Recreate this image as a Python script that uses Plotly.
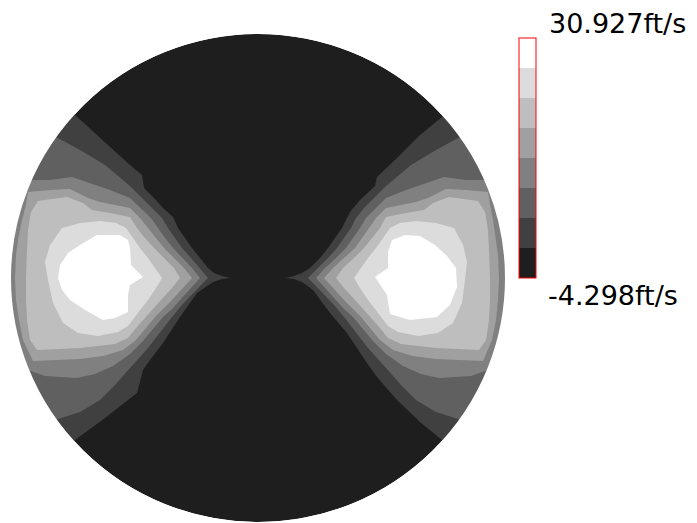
import plotly.graph_objects as go

# velocity range shown on the colour bar (ft/s)
v_min, v_max = -4.298, 30.927
label_top = "30.927ft/s"
label_bottom = "-4.298ft/s"
n_levels = 8
level_colors = ['#1e1e1e', '#404040', '#606060', '#808080',
                '#a0a0a0', '#bebebe', '#dcdcdc', '#ffffff']

# pipe wall (cross-section half widths)
pipe_rx, pipe_ry = 247, 244

# contour outlines (region where level >= k), left lobe
left_1 = [(-268, 180), (-198, 180), (-183, 163), (-158, 140), (-128, 113), (-116, 103), (-114, 90),
          (-104, 80), (-95, 70), (-85, 61), (-80, 50), (-73, 40), (-66, 30), (-58, 20), (-50, 10),
          (-44, 5), (-36, 2), (-28, 0), (-36, -1), (-45, -4), (-61, -15), (-78, -39), (-95, -65),
          (-108, -82), (-115, -92), (-121, -115), (-153, -140), (-183, -162), (-198, -180), (-268, -180)]
left_2 = [(-268, 153), (-218, 153), (-202, 141), (-178, 128), (-153, 113), (-128, 92), (-116, 80),
          (-106, 70), (-96, 60), (-90, 50), (-83, 40), (-76, 30), (-67, 20), (-58, 10), (-53, 4),
          (-50, 0), (-56, -6), (-66, -16), (-76, -27), (-86, -39), (-97, -53), (-110, -70),
          (-128, -90), (-143, -107), (-158, -122), (-178, -134), (-203, -142), (-218, -154), (-268, -154)]
left_3 = [(-278, 103), (-243, 103), (-227, 98), (-208, 98), (-186, 101), (-168, 95), (-148, 88),
          (-128, 80), (-118, 70), (-107, 60), (-100, 50), (-93, 40), (-85, 30), (-75, 20), (-66, 10),
          (-58, 0), (-66, -9), (-77, -22), (-86, -31), (-95, -39), (-104, -50), (-115, -63),
          (-128, -76), (-145, -88), (-163, -96), (-181, -100), (-213, -98), (-230, -92),
          (-248, -100), (-278, -100)]
left_4 = [(-230, 86), (-208, 88), (-188, 89), (-170, 80), (-158, 76), (-128, 70), (-118, 60),
          (-110, 50), (-102, 40), (-94, 30), (-84, 20), (-74, 10), (-66, 0), (-75, -10), (-86, -22),
          (-95, -31), (-103, -39), (-112, -50), (-122, -62), (-135, -72), (-155, -78), (-178, -81),
          (-225, -83), (-235, -62), (-239, -42), (-242, -22), (-243, 0), (-242, 23), (-240, 38),
          (-236, 58), (-232, 73)]
left_5 = [(-220, 77), (-191, 81), (-175, 75), (-166, 68), (-148, 65), (-128, 61), (-121, 50),
          (-113, 40), (-104, 30), (-94, 20), (-84, 10), (-78, 0), (-86, -10), (-97, -22), (-105, -31),
          (-113, -39), (-122, -50), (-130, -60), (-143, -66), (-178, -70), (-221, -72), (-228, -62),
          (-231, -42), (-232, -22), (-232, 0), (-231, 28), (-230, 48), (-227, 66)]
left_6 = [(-210, -2), (-213, 16), (-208, 33), (-196, 50), (-178, 55), (-158, 57), (-142, 55),
          (-132, 50), (-125, 40), (-118, 30), (-110, 20), (-103, 10), (-96, 0), (-102, -10),
          (-110, -22), (-117, -31), (-123, -39), (-130, -48), (-140, -54), (-160, -58), (-180, -55),
          (-195, -45), (-205, -25)]
left_7 = [(-200, 0), (-198, 13), (-190, 25), (-178, 33), (-161, 43), (-138, 43), (-130, 38),
          (-128, 30), (-127, 13), (-115, 1), (-128, -7), (-130, -17), (-130, -34), (-143, -40),
          (-155, -42), (-173, -32), (-188, -22), (-196, -12)]

# right lobe
right_1 = [(270, 180), (200, 180), (184, 161), (162, 143), (140, 121), (119, 101), (117, 92),
           (102, 78), (92, 66), (84, 50), (77, 40), (70, 30), (62, 20), (52, 10), (44, 5), (36, 2),
           (28, 0), (36, -1), (44, -4), (55, -12), (72, -35), (89, -55), (109, -85), (119, -99),
           (139, -122), (162, -144), (184, -162), (200, -180), (270, -180)]
right_2 = [(268, 153), (218, 153), (202, 141), (178, 128), (153, 113), (128, 92), (116, 80),
           (106, 70), (98, 60), (93, 50), (86, 40), (79, 30), (70, 20), (60, 10), (54, 4), (50, 0),
           (56, -6), (66, -16), (76, -27), (86, -39), (97, -53), (110, -70), (128, -90), (143, -107),
           (158, -122), (178, -134), (203, -142), (218, -154), (268, -154)]
right_3 = [(278, 103), (243, 103), (227, 98), (208, 98), (186, 101), (168, 95), (148, 88),
           (128, 80), (118, 70), (108, 60), (102, 50), (95, 40), (88, 30), (78, 20), (67, 10),
           (58, 0), (66, -9), (77, -22), (86, -31), (95, -39), (104, -50), (115, -63), (128, -76),
           (145, -88), (163, -96), (181, -100), (213, -98), (230, -92), (248, -100), (278, -100)]
right_4 = [(230, 86), (208, 88), (188, 89), (170, 80), (158, 76), (128, 70), (118, 60), (111, 50),
           (104, 40), (97, 30), (86, 20), (75, 10), (66, 0), (75, -10), (86, -22), (95, -31),
           (103, -39), (112, -50), (122, -62), (135, -72), (155, -78), (178, -81), (225, -83),
           (234, -62), (238, -42), (240, -22), (241, 0), (240, 23), (238, 38), (235, 58), (232, 73)]
right_5 = [(220, 77), (191, 81), (175, 75), (166, 68), (148, 65), (128, 61), (122, 50), (114, 40),
           (106, 30), (96, 20), (85, 10), (78, 0), (86, -10), (97, -22), (105, -31), (113, -39),
           (122, -50), (130, -60), (143, -66), (178, -70), (221, -72), (228, -62), (231, -42),
           (232, -22), (232, 0), (231, 28), (230, 48), (227, 66)]
right_6 = [(207, -2), (209, 16), (205, 33), (196, 50), (178, 55), (158, 57), (142, 55), (132, 50),
           (125, 40), (118, 30), (110, 20), (103, 10), (96, 0), (102, -10), (110, -22), (117, -31),
           (123, -39), (130, -48), (140, -54), (160, -58), (180, -55), (195, -45), (204, -25)]
right_7 = [(117, 1), (130, 10), (130, 26), (134, 38), (147, 43), (162, 42), (177, 33), (189, 22),
           (198, 10), (199, -9), (192, -27), (179, -39), (152, -42), (132, -36), (129, -17), (122, -7)]

left_lobe = [left_1, left_2, left_3, left_4, left_5, left_6, left_7]
right_lobe = [right_1, right_2, right_3, right_4, right_5, right_6, right_7]

fig = go.Figure()

for lobe in (left_lobe, right_lobe):
    for k, outline in enumerate(lobe, start=1):
        xs = [p[0] for p in outline] + [outline[0][0]]
        ys = [p[1] for p in outline] + [outline[0][1]]
        fig.add_trace(go.Scatter(x=xs, y=ys, mode='lines', fill='toself',
                                 fillcolor=level_colors[k], line=dict(width=0, color=level_colors[k]),
                                 hoverinfo='skip', showlegend=False))

# discrete colour scale for the colour bar
cs = []
for i, c in enumerate(level_colors):
    cs.append([i / n_levels, c])
    cs.append([(i + 1) / n_levels, c])

W, H = 697, 523
fig.add_trace(go.Scatter(
    x=[None], y=[None], mode='markers', hoverinfo='skip', showlegend=False,
    marker=dict(color=[v_min], cmin=v_min, cmax=v_max, colorscale=cs, showscale=True,
                colorbar=dict(thickness=17, len=240, lenmode='pixels',
                              x=518.5 / W, xanchor='left', xpad=0, ypad=0,
                              y=1 - 158 / H, yanchor='middle',
                              outlinecolor='#ff0000', outlinewidth=1,
                              ticks='', showticklabels=False, borderwidth=0))))

ring = 160
fig.update_layout(
    width=W, height=H,
    margin=dict(l=0, r=0, t=0, b=0),
    paper_bgcolor='white', plot_bgcolor='white',
    xaxis=dict(range=[-258, W - 258], visible=False, fixedrange=True),
    yaxis=dict(range=[278 - H, 278], visible=False, fixedrange=True),
    shapes=[
        dict(type='circle', xref='x', yref='y', x0=-pipe_rx, x1=pipe_rx, y0=-pipe_ry, y1=pipe_ry,
             fillcolor=level_colors[0], line=dict(width=0), layer='below'),
        dict(type='circle', xref='x', yref='y',
             x0=-(pipe_rx + ring / 2), x1=pipe_rx + ring / 2,
             y0=-(pipe_ry + ring / 2), y1=pipe_ry + ring / 2,
             fillcolor='rgba(0,0,0,0)', line=dict(width=ring, color='white'), layer='above'),
    ],
    annotations=[
        dict(text=label_top, xref='paper', yref='paper', x=547 / W, y=1 - 23 / H,
             xanchor='left', yanchor='middle', showarrow=False,
             font=dict(family='DejaVu Sans', size=27, color='black')),
        dict(text=label_bottom, xref='paper', yref='paper', x=546 / W, y=1 - 295 / H,
             xanchor='left', yanchor='middle', showarrow=False,
             font=dict(family='DejaVu Sans', size=27, color='black')),
    ],
)

fig.write_html("out.html", config={'displayModeBar': False},
               post_script="document.body.style.margin='0';document.body.style.overflow='hidden';")
